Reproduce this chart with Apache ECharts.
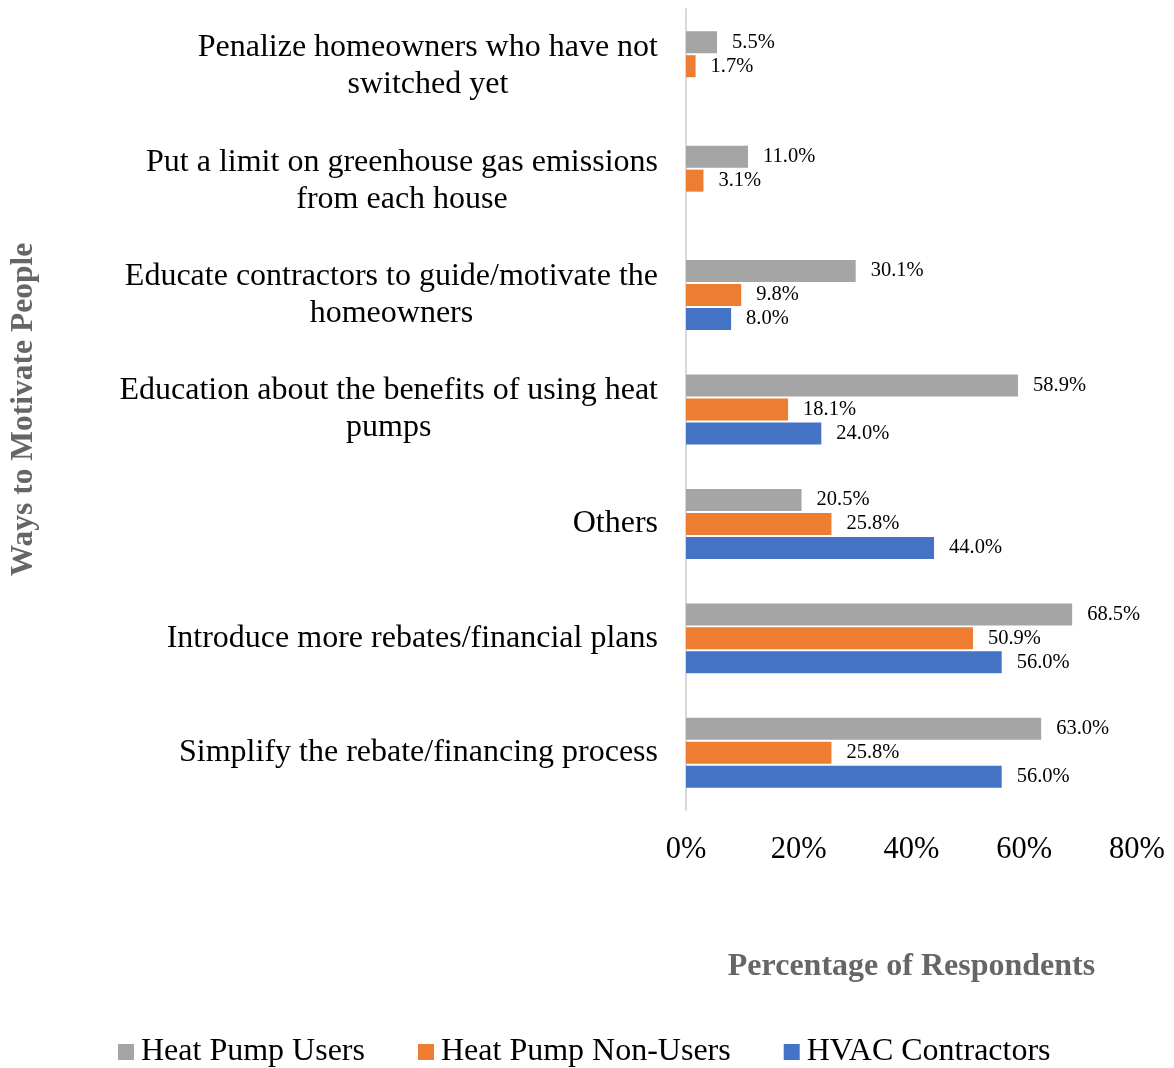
<!DOCTYPE html>
<html>
<head>
<meta charset="utf-8">
<script src="https://cdn.jsdelivr.net/npm/echarts@6/dist/echarts.min.js"></script>
<style>html,body{margin:0;padding:0;background:#fff}#c{width:1174px;height:1068px}</style>
</head>
<body>
<div id="c"></div>
<script>
// categories listed bottom to top
const categories = [
  "Simplify the rebate/financing process",
  "Introduce more rebates/financial plans",
  "Others",
  "Education about the benefits of using heat\npumps",
  "Educate contractors to guide/motivate the\nhomeowners",
  "Put a limit on greenhouse gas emissions\nfrom each house",
  "Penalize homeowners who have not\nswitched yet"
];
const seriesNames = ["Heat Pump Users", "Heat Pump Non-Users", "HVAC Contractors"];
const heatPumpUsers    = [63.0, 68.5, 20.5, 58.9, 30.1, 11.0, 5.5];
const heatPumpNonUsers = [25.8, 50.9, 25.8, 18.1, 9.8, 3.1, 1.7];
const hvacContractors  = [56.0, 56.0, 44.0, 24.0, 8.0, null, null];
const xTicks = [0, 20, 40, 60, 80];

const colors = ["#A5A5A5", "#ED7D31", "#4472C4"];
const font = "'Liberation Serif', 'Times New Roman', serif";

const chart = echarts.init(document.getElementById('c'), null, {renderer: 'canvas'});
function mkSeries(name, data, color) {
  return {
    name: name, type: 'bar', data: data,
    barWidth: 22, barGap: '9%',
    itemStyle: {color: color},
    label: {
      show: true, position: 'right', distance: 15,
      fontFamily: font, fontSize: 20.5, color: '#000',
      formatter: p => p.value == null ? '' : p.value.toFixed(1) + '%'
    }
  };
}
chart.setOption({
  animation: false,
  backgroundColor: '#fff',
  color: colors,
  grid: {left: 686, right: 1174 - 1137, top: 9, bottom: 1068 - 810, containLabel: false},
  legend: {
    top: 1035, left: 118, padding: 0,
    itemWidth: 16, itemHeight: 16, itemGap: 53, icon: 'rect',
    textStyle: {fontFamily: font, fontSize: 32, color: '#000', lineHeight: 34, padding: [0, 0, 0, 2]},
    data: seriesNames
  },
  xAxis: {
    type: 'value', min: 0, max: 80, interval: 20,
    axisLine: {show: false}, axisTick: {show: false}, splitLine: {show: false},
    axisLabel: {margin: 24, fontFamily: font, fontSize: 30.5, color: '#000',
      formatter: v => xTicks.indexOf(v) >= 0 ? v + '%' : ''},
    name: 'Percentage of Respondents', nameLocation: 'middle', nameGap: 141,
    nameTextStyle: {fontFamily: font, fontSize: 32, fontWeight: 'bold', color: '#666'}
  },
  yAxis: {
    type: 'category', data: categories,
    axisLine: {show: true, lineStyle: {color: '#D9D9D9', width: 2}},
    axisTick: {show: false},
    axisLabel: {
      margin: 28, fontFamily: font, fontSize: 32, color: '#000', lineHeight: 37,
      formatter: v => v.split('\n').map(s => '{a|' + s + '}').join('\n'),
      rich: {a: {align: 'center', fontFamily: font, fontSize: 32, color: '#000', lineHeight: 37}}
    },
    name: 'Ways to Motivate People', nameLocation: 'middle', nameGap: 646, nameRotate: 90,
    nameTextStyle: {fontFamily: font, fontSize: 31.5, fontWeight: 'bold', color: '#666'}
  },
  series: [
    mkSeries(seriesNames[0], heatPumpUsers, colors[0]),
    mkSeries(seriesNames[1], heatPumpNonUsers, colors[1]),
    mkSeries(seriesNames[2], hvacContractors, colors[2])
  ]
});
</script>
</body>
</html>
